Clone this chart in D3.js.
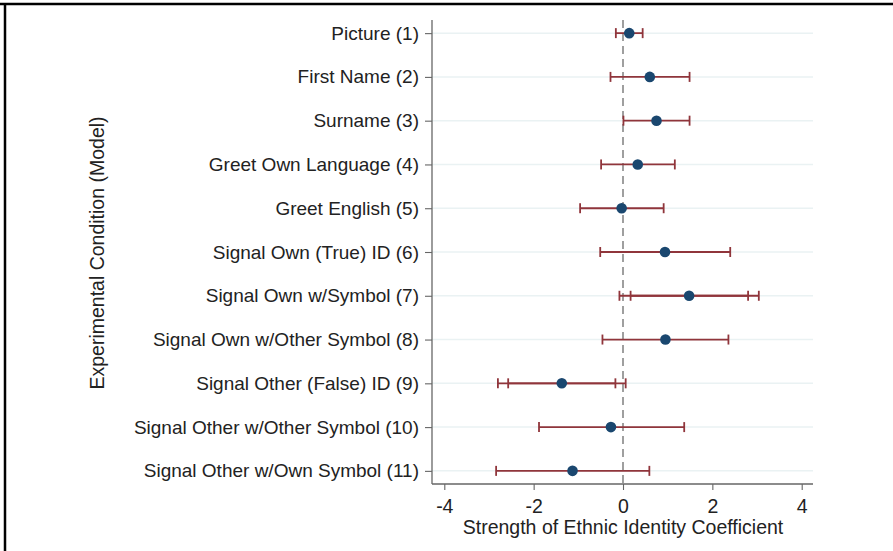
<!DOCTYPE html>
<html>
<head>
<meta charset="utf-8">
<script src="https://cdn.jsdelivr.net/npm/d3@7"></script>
<style>
  body { margin: 0; background: #fff; }
  svg text { font-family: "Liberation Sans", Arial, Helvetica, sans-serif; fill: #222; }
</style>
</head>
<body>
<svg width="893" height="551"></svg>
<script>
const conditions = [
  'Picture (1)', 'First Name (2)', 'Surname (3)', 'Greet Own Language (4)',
  'Greet English (5)', 'Signal Own (True) ID (6)', 'Signal Own w/Symbol (7)',
  'Signal Own w/Other Symbol (8)', 'Signal Other (False) ID (9)',
  'Signal Other w/Other Symbol (10)', 'Signal Other w/Own Symbol (11)'
];
const estimates = [0.14, 0.60, 0.75, 0.33, -0.03, 0.94, 1.48, 0.95, -1.37, -0.27, -1.13];
const ciLow  = [-0.16, -0.28, 0.01, -0.49, -0.96, -0.51, -0.08, -0.46, -2.80, -1.88, -2.84];
const ciHigh = [0.44, 1.49, 1.49, 1.16, 0.91, 2.40, 3.04, 2.36, 0.06, 1.37, 0.59];
// second (narrower) interval only drawn for models 7 and 9
const ciLow2  = [null, null, null, null, null, null, 0.17, null, -2.57, null, null];
const ciHigh2 = [null, null, null, null, null, null, 2.80, null, -0.17, null, null];
const xTicks = [-4, -2, 0, 2, 4];

const rows = conditions.map((c, i) => ({
  name: c, row: i + 1, est: estimates[i],
  lo: ciLow[i], hi: ciHigh[i], lo2: ciLow2[i], hi2: ciHigh2[i]
}));

const svg = d3.select("svg");

const navy = "#1a476f", maroon = "#90353b";

const x = d3.scaleLinear().domain([-4, 4]).range([444.3, 801.7]);
const y = d3.scaleLinear().domain([0.7, 11.3]).range([20, 484]);
const plotLeft = 432, plotRight = 813, plotTop = 20, plotBottom = 484;

// outer frame (top and left only visible)
svg.append("line").attr("x1", 0).attr("x2", 893).attr("y1", 4).attr("y2", 4)
  .attr("stroke", "#000").attr("stroke-width", 2.5);
svg.append("line").attr("x1", 5).attr("x2", 5).attr("y1", 3).attr("y2", 551)
  .attr("stroke", "#000").attr("stroke-width", 2.5);

// horizontal grid lines
svg.append("g").selectAll("line").data(rows).enter().append("line")
  .attr("x1", plotLeft).attr("x2", plotRight)
  .attr("y1", d => y(d.row)).attr("y2", d => y(d.row))
  .attr("stroke", "#eaf2f3").attr("stroke-width", 1.5);

// zero reference line
svg.append("line")
  .attr("x1", x(0)).attr("x2", x(0)).attr("y1", plotTop).attr("y2", plotBottom)
  .attr("stroke", "#888").attr("stroke-width", 1.6)
  .attr("stroke-dasharray", "8,5");

// axes
let yAxis = d3.axisLeft(y)
  .tickValues(rows.map(d => d.row))
  .tickFormat(d => conditions[d - 1])
  .tickSize(7).tickPadding(6);
let gY = svg.append("g").attr("transform", `translate(${plotLeft},0)`).call(yAxis);
gY.select(".domain").attr("d", `M0,${plotTop}V${plotBottom}`);

let xAxis = d3.axisBottom(x).tickValues(xTicks).tickSize(6).tickPadding(9)
  .tickFormat(d => d);
let gX = svg.append("g").attr("transform", `translate(0,${plotBottom})`).call(xAxis);
gX.select(".domain").attr("d", `M${plotLeft},0H${plotRight}`);

[gX, gY].forEach(g => {
  g.select(".domain").attr("stroke", "#666").attr("stroke-width", 1.3);
  g.selectAll(".tick line").attr("stroke", "#666").attr("stroke-width", 1.1);
});
gY.selectAll(".tick text").style("font-size", "19px").attr("fill", "#222");
gX.selectAll(".tick text").style("font-size", "19.5px").attr("fill", "#222");

// axis titles
svg.append("text")
  .attr("transform", "translate(104,253) rotate(-90)")
  .attr("text-anchor", "middle").style("font-size", "19.5px")
  .text("Experimental Condition (Model)");
svg.append("text")
  .attr("x", x(0)).attr("y", 534)
  .attr("text-anchor", "middle").style("font-size", "19.5px")
  .text("Strength of Ethnic Identity Coefficient");

// confidence intervals
const ci = svg.append("g").attr("stroke", maroon).attr("stroke-width", 1.8);
const drawCI = (sel, lo, hi) => {
  sel.append("line")
    .attr("x1", d => x(d[lo])).attr("x2", d => x(d[hi]))
    .attr("y1", d => y(d.row)).attr("y2", d => y(d.row));
  [lo, hi].forEach(k => {
    sel.append("line")
      .attr("x1", d => x(d[k])).attr("x2", d => x(d[k]))
      .attr("y1", d => y(d.row) - 5).attr("y2", d => y(d.row) + 5);
  });
};
drawCI(ci.selectAll("g.ci").data(rows).enter().append("g"), "lo", "hi");
drawCI(ci.selectAll("g.ci2").data(rows.filter(d => d.lo2 !== null)).enter().append("g"), "lo2", "hi2");

// point estimates
svg.append("g").selectAll("circle").data(rows).enter().append("circle")
  .attr("cx", d => x(d.est)).attr("cy", d => y(d.row)).attr("r", 5.3)
  .attr("fill", navy);
</script>
</body>
</html>
